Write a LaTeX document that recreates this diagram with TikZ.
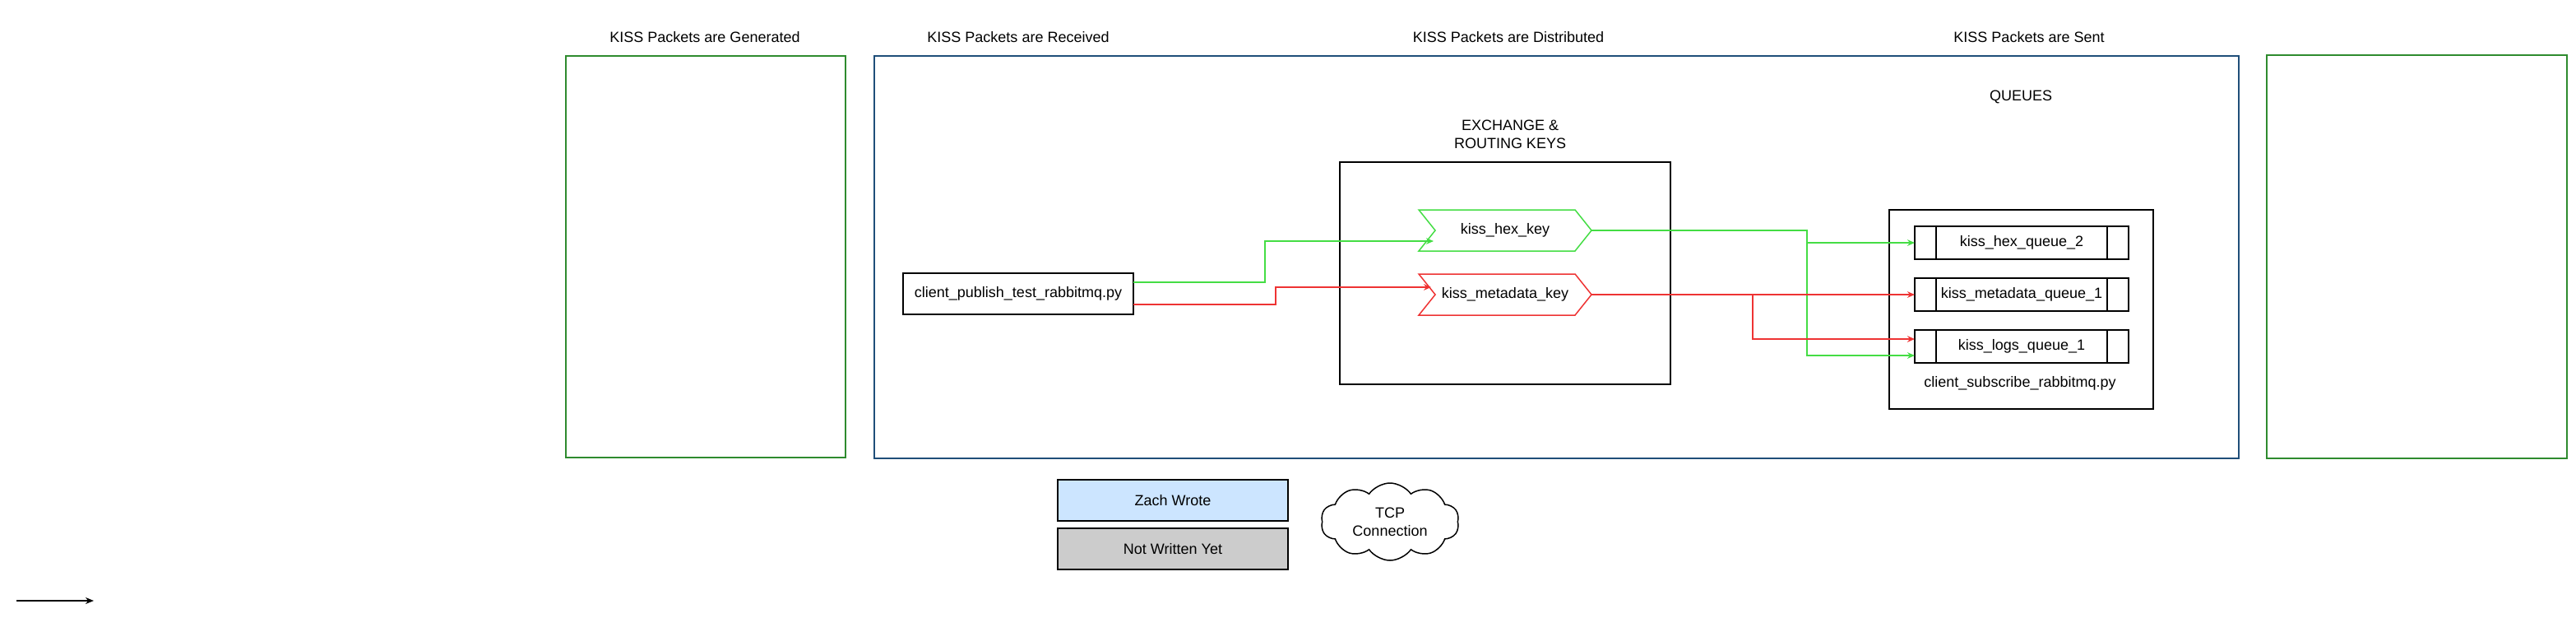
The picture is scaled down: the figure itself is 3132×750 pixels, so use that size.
\documentclass[tikz,border=0pt]{standalone}
\usepackage{fontspec}
\setmainfont{Liberation Sans}
\usetikzlibrary{arrows.meta,shapes.symbols}
\definecolor{gbox}{HTML}{2E8B2E}
\definecolor{bbox}{HTML}{1F4E79}
\definecolor{lgreen}{HTML}{44DD44}
\definecolor{lred}{HTML}{EE3333}
\definecolor{zachfill}{HTML}{CCE5FF}
\definecolor{notyetfill}{HTML}{CCCCCC}
\begin{document}
\begin{tikzpicture}[x=0.5pt,y=-0.5pt,
  lbl/.style={font=\fontsize{9pt}{10.8pt}\selectfont, inner sep=0pt, outer sep=0pt, align=center},
  framebox/.style={draw, line width=0.75pt, inner sep=0pt, outer sep=0pt},
  keyshape/.style={lbl, minimum width=105pt, minimum height=25pt},
  queuebox/.style={framebox, lbl, minimum width=130pt, minimum height=20pt},
  legendbox/.style={framebox, lbl, minimum width=140pt, minimum height=25pt},
  tipg/.style={-{Stealth[length=4.5pt,width=3.8pt]}},
  gline/.style={draw=lgreen, line width=0.75pt, tipg, fill=none},
  rline/.style={draw=lred, line width=0.75pt, tipg, fill=none}]
\useasboundingbox (0,0) rectangle (3132,750);

% titles
\node[lbl] (t1) at (857,45) {KISS Packets are Generated};
\node[lbl] (t2) at (1238,45) {KISS Packets are Received};
\node[lbl] (t3) at (1834,45) {KISS Packets are Distributed};
\node[lbl] (t4) at (2467,45) {KISS Packets are Sent};

% big frames
\node[framebox, draw=gbox, minimum width=170pt, minimum height=244pt] (gen) at (858,312) {};
\node[framebox, draw=bbox, minimum width=829.5pt, minimum height=244.5pt] (main) at (1892.5,312.5) {};
\node[framebox, draw=gbox, minimum width=182.5pt, minimum height=245pt] (sent) at (2938.5,312) {};

% exchange
\node[lbl] (exlbl) at (1836,163) {EXCHANGE \&\\ROUTING KEYS};
\node[framebox, minimum width=201pt, minimum height=135pt] (exch) at (1830,332) {};

% queues label and group
\node[lbl] (qlbl) at (2457,118) {QUEUES};
\node[framebox, minimum width=160.5pt, minimum height=121pt] (qgroup) at (2457.5,376) {};
\node[lbl] (sublbl) at (2456,466) {client\_subscribe\_rabbitmq.py};

% publisher
\node[framebox, lbl, minimum width=140pt, minimum height=25pt] (pub) at (1238,357) {client\_publish\_test\_rabbitmq.py};

% routing keys (chevrons)
\node[keyshape] (hexkey) at (1830,280) {kiss\_hex\_key};
\draw[lgreen, line width=0.75pt] (hexkey.north west) -- ([xshift=-10pt]hexkey.north east) -- (hexkey.east)
  -- ([xshift=-10pt]hexkey.south east) -- (hexkey.south west) -- ([xshift=10pt]hexkey.west) -- cycle;
\node[keyshape] (metakey) at (1830,358) {kiss\_metadata\_key};
\draw[lred, line width=0.75pt] (metakey.north west) -- ([xshift=-10pt]metakey.north east) -- (metakey.east)
  -- ([xshift=-10pt]metakey.south east) -- (metakey.south west) -- ([xshift=10pt]metakey.west) -- cycle;

% queue boxes
\node[queuebox] (hexq) at (2458,295) {kiss\_hex\_queue\_2};
\node[queuebox] (metaq) at (2458,358) {kiss\_metadata\_queue\_1};
\node[queuebox] (logsq) at (2458,421) {kiss\_logs\_queue\_1};
\foreach \q in {hexq,metaq,logsq}{
  \draw[line width=0.75pt] ([xshift=13pt]\q.north west) -- ([xshift=13pt]\q.south west);
  \draw[line width=0.75pt] ([xshift=-13pt]\q.north east) -- ([xshift=-13pt]\q.south east);
}

% connectors
\draw[gline] ([yshift=7pt]pub.east) -- ++(80pt,0) |- ([xshift=9pt,yshift=-6.5pt]hexkey.west);
\draw[rline] ([yshift=-6.5pt]pub.east) -- ++(86.5pt,0) |- ([xshift=7.5pt,yshift=4.5pt]metakey.west);
\draw[gline] (hexkey.east) -- ++(131pt,0) |- (hexq.west);
\draw[gline] (hexkey.east) -- ++(131pt,0) |- ([yshift=-5.5pt]logsq.west);
\draw[rline] (metakey.east) -- (metaq.west);
\draw[rline] (metakey.east) -- ++(98pt,0) |- ([yshift=4.5pt]logsq.west);

% legend
\node[legendbox, fill=zachfill] (zach) at (1426,608) {Zach Wrote};
\node[legendbox, fill=notyetfill] (notyet) at (1426,667) {Not Written Yet};
\node[cloud, draw, line width=0.75pt, cloud puffs=10, cloud puff arc=110, aspect=1.8,
  minimum width=84pt, minimum height=47pt, lbl] (tcp) at (1690,634) {TCP\\Connection};

% lone arrow
\coordinate (a0) at (20,730);
\coordinate (a1) at (114,730);
\draw[line width=0.75pt, -{Stealth[length=5pt,width=4pt]}] (a0) -- (a1);
\end{tikzpicture}
\end{document}
